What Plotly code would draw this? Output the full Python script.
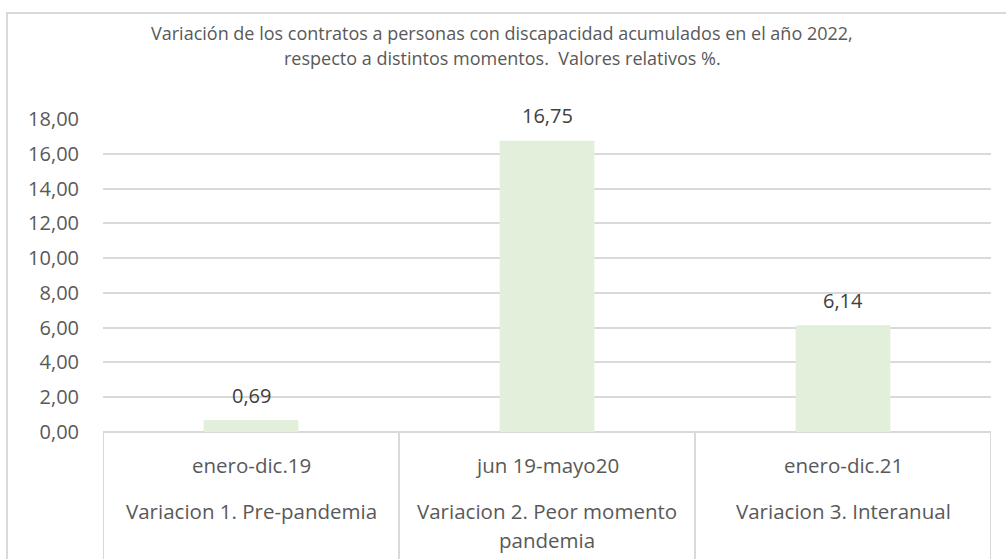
import plotly.graph_objects as go

periods = ["enero-dic.19", "jun 19-mayo20", "enero-dic.21"]
variations = [["Variacion 1. Pre-pandemia"],
              ["Variacion 2. Peor momento", "pandemia"],
              ["Variacion 3. Interanual"]]
values = [0.69, 16.75, 6.14]
y_ticks = [0, 2, 4, 6, 8, 10, 12, 14, 16, 18]
title_lines = ["Variación de los contratos a personas con discapacidad acumulados en el año 2022,",
               "respecto a distintos momentos.  Valores relativos %."]

W, H = 1006, 559
ml, mr, mt, mb = 103, 15, 119, 127
plot_w = W - ml - mr
plot_h = H - mt - mb

FONT = "Open Sans"
GREY = "#595959"
LINE = "#D9D9D9"

x_idx = list(range(len(periods)))

fig = go.Figure()
fig.add_trace(go.Bar(
    x=x_idx, y=values,
    marker=dict(color="#E2EFDA", line=dict(width=0)),
    width=0.32,
    hoverinfo="skip",
))

shapes = []
for b in [-0.5, 0.5, 1.5, 2.5]:
    shapes.append(dict(type="line", xref="x", yref="paper", x0=b, x1=b,
                       y0=0, y1=-(mb + 5) / plot_h,
                       line=dict(color=LINE, width=2)))
shapes.append(dict(type="rect", xref="paper", yref="paper",
                   x0=(7 - ml) / plot_w, x1=(W + 10 - ml) / plot_w,
                   y0=-(mb + 10) / plot_h, y1=1 + (mt - 13) / plot_h,
                   line=dict(color=LINE, width=2), fillcolor="rgba(0,0,0,0)"))

annotations = []
# title lines
for k, t in enumerate(title_lines):
    annotations.append(dict(x=502 / W, y=1 - (33 + 25 * k) / H, xref="paper", yref="container",
                            text=t, showarrow=False, xanchor="center", yanchor="middle",
                            font=dict(family=FONT, size=18, color=GREY)))
for i, v in enumerate(values):
    annotations.append(dict(x=i, y=v, xref="x", yref="y", text=f"{v:.2f}".replace(".", ","),
                            showarrow=False, yanchor="middle", yshift=25,
                            font=dict(family=FONT, size=20, color="#404040")))
for i, (p, lines) in enumerate(zip(periods, variations)):
    annotations.append(dict(x=i, xref="x", yref="paper", y=-(465 - 432) / plot_h,
                            text=p, showarrow=False, yanchor="middle",
                            font=dict(family=FONT, size=20.5, color=GREY)))
    for k, line in enumerate(lines):
        annotations.append(dict(x=i, xref="x", yref="paper", y=-(511 + 29 * k - 432) / plot_h,
                                text=line, showarrow=False, yanchor="middle",
                                font=dict(family=FONT, size=20.5, color=GREY)))

# convert title annotations from container-relative to paper coordinates
for a in annotations[:len(title_lines)]:
    px_from_top = (1 - a["y"]) * H
    a["yref"] = "paper"
    a["y"] = 1 + (mt - px_from_top) / plot_h
    a["xref"] = "paper"
    a["x"] = (502 - ml) / plot_w

fig.update_layout(
    width=W, height=H,
    margin=dict(l=ml, r=mr, t=mt, b=mb, pad=0),
    paper_bgcolor="white", plot_bgcolor="white",
    separators=",.",
    showlegend=False,
    xaxis=dict(range=[-0.5, 2.5], showticklabels=False, showgrid=False,
               zeroline=False, showline=False, ticks="", fixedrange=True),
    yaxis=dict(range=[0, 18], tickvals=y_ticks, tickformat=".2f",
               showgrid=True, gridcolor=LINE, gridwidth=2,
               zeroline=True, zerolinecolor=LINE, zerolinewidth=2,
               showline=False, ticks="", ticklabelstandoff=23,
               tickfont=dict(family=FONT, size=20, color=GREY), fixedrange=True),
    shapes=shapes,
    annotations=annotations,
)

fig.write_html("out.html", config={"displayModeBar": False},
               post_script="document.body.style.margin='0px';")
